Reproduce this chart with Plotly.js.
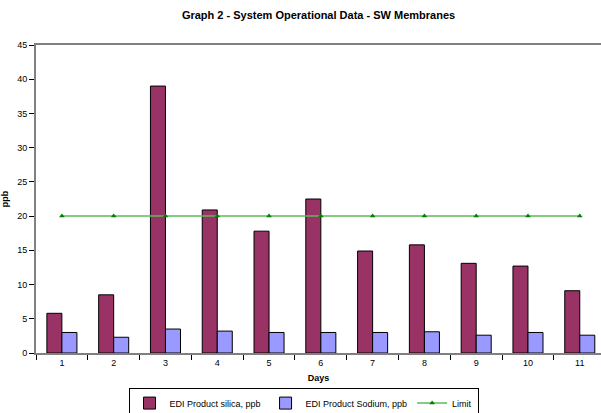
<!DOCTYPE html>
<html><head><meta charset="utf-8">
<script src="https://cdn.plot.ly/plotly-3.0.1.min.js"></script>
<style>html,body{margin:0;padding:0;background:#fff;}</style>
</head><body>
<div id="chart" style="width:601px;height:413px;"></div>
<script>
const days = ["1","2","3","4","5","6","7","8","9","10","11"];
const silica = [5.8, 8.5, 39.0, 20.9, 17.8, 22.5, 14.9, 15.8, 13.1, 12.7, 9.1];
const sodium = [3.0, 2.3, 3.5, 3.2, 3.0, 3.0, 3.0, 3.1, 2.6, 3.0, 2.6];
const limit = [20, 20, 20, 20, 20, 20, 20, 20, 20, 20, 20];

const font = "Liberation Sans, Arial, sans-serif";
const traces = [
  {type:"bar", name:"EDI Product silica, ppb", x:days, y:silica,
   marker:{color:"#993366", line:{color:"#000", width:1}}},
  {type:"bar", name:"EDI Product Sodium, ppb", x:days, y:sodium,
   marker:{color:"#9999FF", line:{color:"#000", width:1}}},
  {type:"scatter", mode:"lines+markers", name:"Limit", x:days, y:limit,
   line:{color:"#5cb85c", width:1.5},
   marker:{symbol:"triangle-up", size:5, color:"#008000"}}
];
const layout = {
  width:601, height:413,
  margin:{l:36, r:0, t:45, b:60},
  paper_bgcolor:"#fff", plot_bgcolor:"#fff",
  font:{family:font, size:9, color:"#000"},
  title:{text:"<b>Graph 2 - System Operational Data - SW Membranes</b>", font:{size:11, family:font},
         x:0.53, xanchor:"center", y:0.963, yanchor:"middle"},
  barmode:"group", bargap:0.42, bargroupgap:0,
  showlegend:true,
  legend:{orientation:"h", xref:"container", yref:"container", x:0.505, xanchor:"center",
          y:0.024, yanchor:"middle", bordercolor:"#000", borderwidth:1, bgcolor:"#fff",
          font:{size:9, family:font}, itemwidth:30, traceorder:"normal"},
  xaxis:{type:"category", range:[-0.5, 10.41], tickson:"boundaries", ticks:"outside", ticklen:5,
         tickcolor:"#000", showline:true, linecolor:"#808080", linewidth:2, mirror:true,
         showgrid:false, zeroline:false, tickfont:{size:9},
         title:{text:"<b>Days</b>", font:{size:9}, standoff:8}},
  yaxis:{range:[0,45], dtick:5, ticks:"outside", ticklen:5, tickcolor:"#000",
         showline:true, linecolor:"#808080", linewidth:2, showgrid:false, zeroline:false,
         tickfont:{size:9}, title:{text:"<b>ppb</b>", font:{size:9}, standoff:10}}
};
Plotly.newPlot("chart", traces, layout, {displayModeBar:false, staticPlot:true});
</script>
</body></html>
